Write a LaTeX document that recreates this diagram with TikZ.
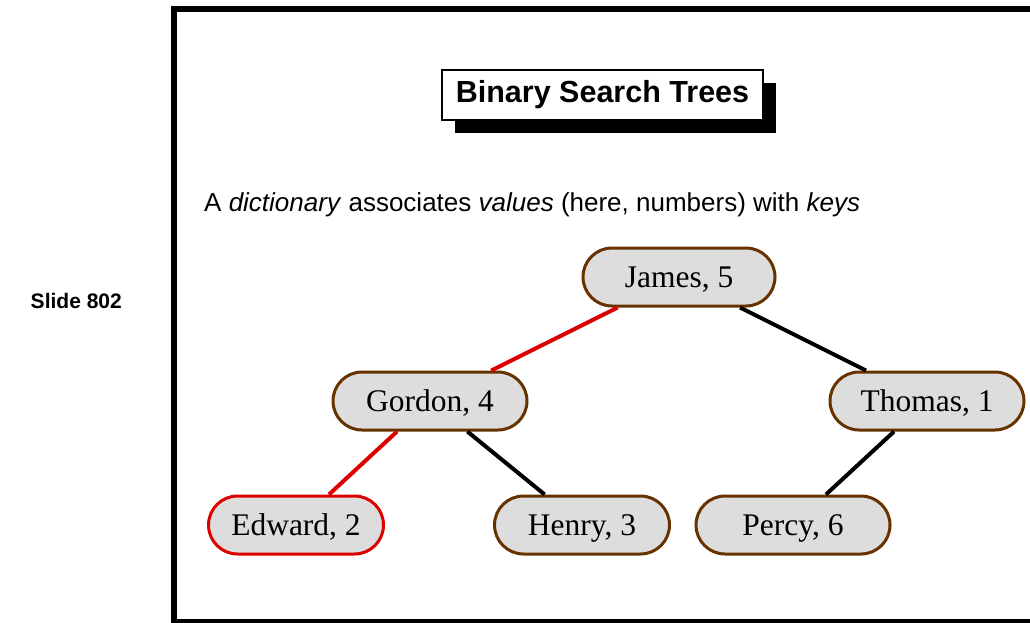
\documentclass[tikz,border=0pt]{standalone}
\usepackage{fontspec}
\setmainfont{Liberation Serif}
\setsansfont{Liberation Sans}
\usetikzlibrary{positioning,shapes.misc,shadows}
\definecolor{keyborder}{RGB}{102, 51, 0}
\definecolor{keyfill}{RGB}{221, 221, 221}
\definecolor{pathred}{RGB}{221, 0, 0}

\begin{document}
\begin{tikzpicture}[x=1pt, y=-1pt, on grid,
    every key/.style={rounded rectangle, draw=keyborder, line width=3pt, fill=keyfill,
      minimum height=58pt, minimum width=194pt, inner sep=0pt, text height=21pt, text depth=0pt,
      font=\fontsize{31.5}{36}\selectfont},
    every link/.style={line width=4pt}]
    \useasboundingbox (0,0) rectangle (1030,623);
    \clip (0,0) rectangle (1030,623);
    % slide frame, cut at right and bottom
    \draw[line width=6pt] (174,9) rectangle (1045,622);

    \node[anchor=base east, inner sep=0pt, font=\sffamily\bfseries\fontsize{21}{26}\selectfont] (slide) at (122,308) {Slide 802};
    \node[draw, line width=2.5pt, fill=white, minimum width=321pt, minimum height=50pt,
      drop shadow={shadow xshift=13pt, shadow yshift=-13pt, opacity=1, fill=black},
      font=\sffamily\bfseries\fontsize{30.5}{36}\selectfont] (title) at (602.5,95) {Binary Search Trees};
    \node[anchor=base west, inner sep=0pt, font=\sffamily\fontsize{26}{31}\selectfont] (intro) at (204,211)
      {A \textit{dictionary} associates \textit{values} (here, numbers) with \textit{keys}};

    \node[every key, minimum width=192pt] (james) at (679,277) {James, 5};
    \node[every key, below left=124pt and 249pt of james] (gordon) {Gordon, 4};
    \node[every key, below right=124pt and 248pt of james] (thomas) {Thomas, 1};
    \node[every key, draw=pathred, minimum width=175pt, below left=124pt and 134pt of gordon] (edward) {Edward, 2};
    \node[every key, minimum width=175pt, below right=124pt and 152pt of gordon] (henry) {Henry, 3};
    \node[every key, below left=124pt and 134pt of thomas] (percy) {Percy, 6};

    \path[every link] (james) edge[pathred] (gordon);
    \path[every link] (gordon) edge[pathred] (edward);
    \path[every link] (gordon) edge (henry);
    \path[every link] (james) edge (thomas);
    \path[every link] (thomas) edge (percy);
\end{tikzpicture}
\end{document}
